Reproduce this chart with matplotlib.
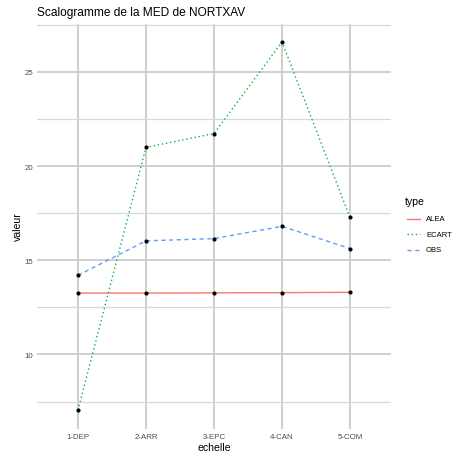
import matplotlib
matplotlib.use("Agg")
import matplotlib.pyplot as plt
from matplotlib.lines import Line2D
from matplotlib.ticker import MultipleLocator

plt.rcParams['font.family'] = ['Liberation Sans', 'DejaVu Sans']

# donnees
echelles = ["1-DEP", "2-ARR", "3-EPC", "4-CAN", "5-COM"]
alea = [13.26, 13.26, 13.27, 13.28, 13.30]
ecart = [7.05, 20.99, 21.72, 26.58, 17.27]
obs = [14.20, 16.03, 16.15, 16.80, 15.62]

series = [("ALEA", alea, "#F8766D", "-"),
          ("ECART", ecart, "#00BA38", (0, (1, 2))),
          ("OBS", obs, "#619CFF", (0, (3, 2.5)))]

W, H = 453, 456
fig = plt.figure(figsize=(W / 100, H / 100), dpi=100)
# panel position in pixels
left, right, top, bottom = 37.2, 390.8, 24.6, 429.5
ax = fig.add_axes([left / W, 1 - bottom / H, (right - left) / W, (bottom - top) / H])

x = list(range(len(echelles)))
for nom, vals, col, ls in series:
    ax.plot(x, vals, color=col, linestyle=ls, linewidth=1.0, label=nom, zorder=3)
for nom, vals, col, ls in series:
    ax.scatter(x, vals, color="black", s=9, zorder=4, linewidths=0)

allv = alea + ecart + obs
lo, hi = min(allv), max(allv)
pad = (hi - lo) * 0.05
ax.set_ylim(lo - pad, hi + pad)
ax.set_xlim(-0.6, len(echelles) - 1 + 0.6)

ax.set_xticks(x)
ax.set_xticklabels(echelles)
ax.yaxis.set_major_locator(MultipleLocator(5))
ax.yaxis.set_minor_locator(MultipleLocator(2.5))

ax.grid(which="major", color="#cccccc", linewidth=1.3, zorder=0)
ax.grid(which="minor", axis="y", color="#d9d9d9", linewidth=0.9, zorder=0)
ax.set_axisbelow(True)
for s in ax.spines.values():
    s.set_visible(False)
ax.tick_params(which="both", length=0, labelsize=5.7, labelcolor="#4D4D4D", pad=3)

ax.set_xlabel("echelle", fontsize=7.6, labelpad=2)
ax.set_ylabel("valeur", fontsize=7.6, labelpad=1)
fig.text(left / W, 1 - 13 / H, "Scalogramme de la MED de NORTXAV",
         fontsize=8.6, ha="left", va="center")

# legende faite a la main (position comme ggplot)
fig.text(405 / W, 1 - 202.5 / H, "type", fontsize=7.6, ha="left", va="center")
for i, (nom, vals, col, ls) in enumerate(series):
    yy = 1 - (219.5 + i * 15.6) / H
    fig.add_artist(Line2D([407 / W, 419.5 / W], [yy, yy], color=col,
                          linestyle=ls, linewidth=1.0, transform=fig.transFigure))
    fig.text(426 / W, yy, nom, fontsize=5.5, ha="left", va="center")

fig.savefig("out.png", dpi=100)
